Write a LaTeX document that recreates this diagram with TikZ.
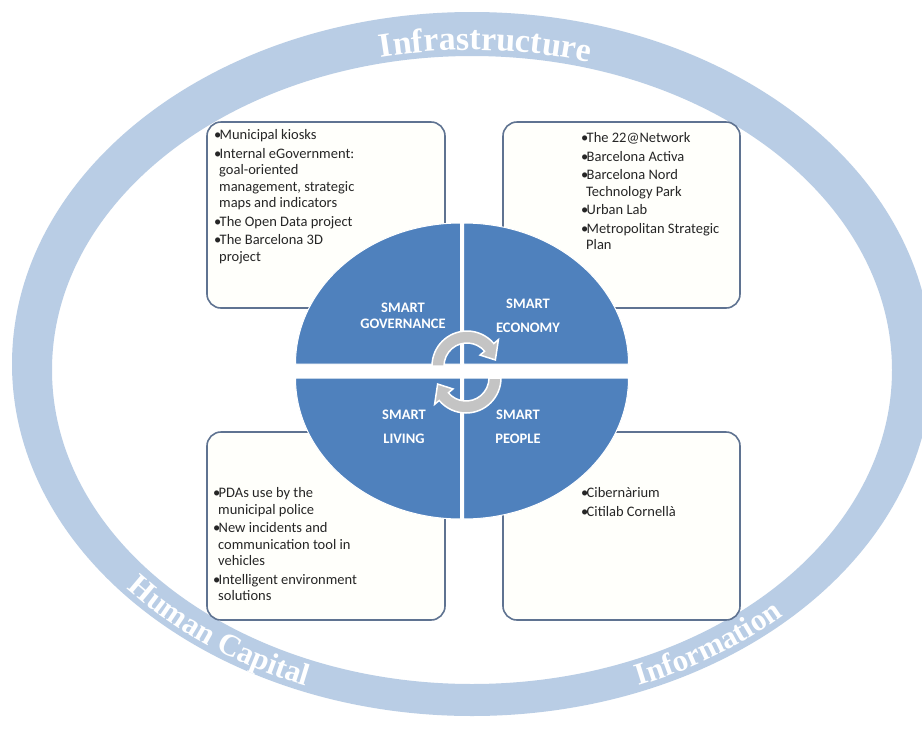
\documentclass[tikz,border=0pt]{standalone}
\usepackage{fontspec}
\setmainfont{Carlito}
\newfontfamily\ringfont{Liberation Serif}
\usetikzlibrary{decorations.text}

\definecolor{ringblue}{RGB}{185,205,229}
\definecolor{smartblue}{RGB}{79,129,189}
\definecolor{boxline}{RGB}{95,115,145}
\definecolor{boxfill}{RGB}{255,255,251}
\definecolor{arrowgray}{RGB}{196,196,196}

\newcommand{\bul}{\makebox[5.5pt][l]{\textbullet}}
\newcommand{\cont}{\hspace*{5pt}}

\begin{document}
\begin{tikzpicture}[x=1pt,y=1pt,
  infobox/.style={draw=boxline,line width=1.6pt,fill=boxfill,rounded corners=14pt,minimum width=238pt,minimum height=186pt},
  boxtext/.style={anchor=north west,align=left,inner sep=0pt,text=black!85,font=\fontsize{14.5}{16.5}\selectfont},
  quarter/.style={fill=smartblue,draw=white,line width=1pt},
  smartlabel/.style={align=center,text=white,font=\bfseries\fontsize{14.5}{24}\selectfont},
  cyclearrow/.style={fill=arrowgray,draw=white,line width=1.5pt},
  ringtext/.style 2 args={decorate,decoration={text along path,text align=center,text color=white,
    text={|\ringfont\bfseries\fontsize{#1}{#1}\selectfont|#2}}}]
  \useasboundingbox[fill=white] (0,0) rectangle (922,-729);

  \coordinate (ringc) at (472,-367);
  \fill[ringblue,even odd rule] (472,-364) ellipse[x radius=460pt,y radius=352pt]
    (472,-370) ellipse[x radius=420pt,y radius=314pt];

  \path[ringtext={34}{Infrastructure}]
    (ringc) ++(128:425pt and 317pt) arc[start angle=128,end angle=48,x radius=425pt,y radius=317pt];
  \path[ringtext={31}{Human Capital}]
    (ringc) ++(203:452pt and 343pt) arc[start angle=203,end angle=263,x radius=452pt,y radius=343pt];
  \path[ringtext={31}{Information}]
    (ringc) ++(274:452pt and 343pt) arc[start angle=274,end angle=334,x radius=452pt,y radius=343pt];

  \node[infobox] (govbox) at (326,-215) {};
  \node[infobox,minimum width=237pt] (econbox) at (621.5,-215) {};
  \node[infobox,minimum height=188pt] (livbox) at (326,-526) {};
  \node[infobox,minimum width=237pt,minimum height=188pt] (peoplebox) at (621.5,-526) {};

  \node[boxtext] (govtext) at (214,-129.5) {\bul Municipal kiosks\\[2pt]
    \bul Internal eGovernment:\\ \cont goal-oriented\\ \cont management, strategic\\ \cont maps and indicators\\[2pt]
    \bul The Open Data project\\[2pt]
    \bul The Barcelona 3D\\ \cont project};
  \node[boxtext] (econtext) at (581,-132.5) {\bul The 22@Network\\[2pt]
    \bul Barcelona Activa\\[2pt]
    \bul Barcelona Nord\\ \cont Technology Park\\[2pt]
    \bul Urban Lab\\[2pt]
    \bul Metropolitan Strategic\\ \cont Plan};
  \node[boxtext] (livtext) at (213,-487.5) {\bul PDAs use by the\\ \cont municipal police\\[2pt]
    \bul New incidents and\\ \cont communication tool in\\ \cont vehicles\\[2pt]
    \bul Intelligent environment\\ \cont solutions};
  \node[boxtext] (peopletext) at (581,-487.5) {\bul Cibernàrium\\[2pt]
    \bul Citilab Cornellà};

  \fill[quarter] (460.5,-364) -- ++(-165,0) arc[start angle=180,end angle=90,x radius=165pt,y radius=141pt] -- cycle;
  \fill[quarter] (463.5,-364) -- ++(0,141) arc[start angle=90,end angle=0,x radius=165pt,y radius=141pt] -- cycle;
  \fill[quarter] (460.5,-378) -- ++(-165,0) arc[start angle=180,end angle=270,x radius=165pt,y radius=141pt] -- cycle;
  \fill[quarter] (463.5,-378) -- ++(165,0) arc[start angle=0,end angle=-90,x radius=165pt,y radius=141pt] -- cycle;

  \node[smartlabel,font=\bfseries\fontsize{14.5}{16}\selectfont] (gov) at (403,-316) {SMART\\GOVERNANCE};
  \node[smartlabel] (econ) at (528,-316) {SMART\\ECONOMY};
  \node[smartlabel] (living) at (404,-427) {SMART\\LIVING};
  \node[smartlabel] (people) at (518,-427) {SMART\\PEOPLE};

  \begin{scope}[shift={(467,-366)}]
    \filldraw[cyclearrow] (180:35pt) arc[start angle=180,end angle=40,radius=35pt] -- (40:41pt) -- (12:29pt)
      -- (40:17pt) -- (40:23pt) arc[start angle=40,end angle=180,radius=23pt] -- cycle;
  \end{scope}
  \begin{scope}[shift={(466,-378)}]
    \filldraw[cyclearrow] (0:35pt) arc[start angle=0,end angle=-140,radius=35pt] -- (-140:41pt) -- (-168:29pt)
      -- (-140:17pt) -- (-140:23pt) arc[start angle=-140,end angle=0,radius=23pt] -- cycle;
  \end{scope}
\end{tikzpicture}
\end{document}
